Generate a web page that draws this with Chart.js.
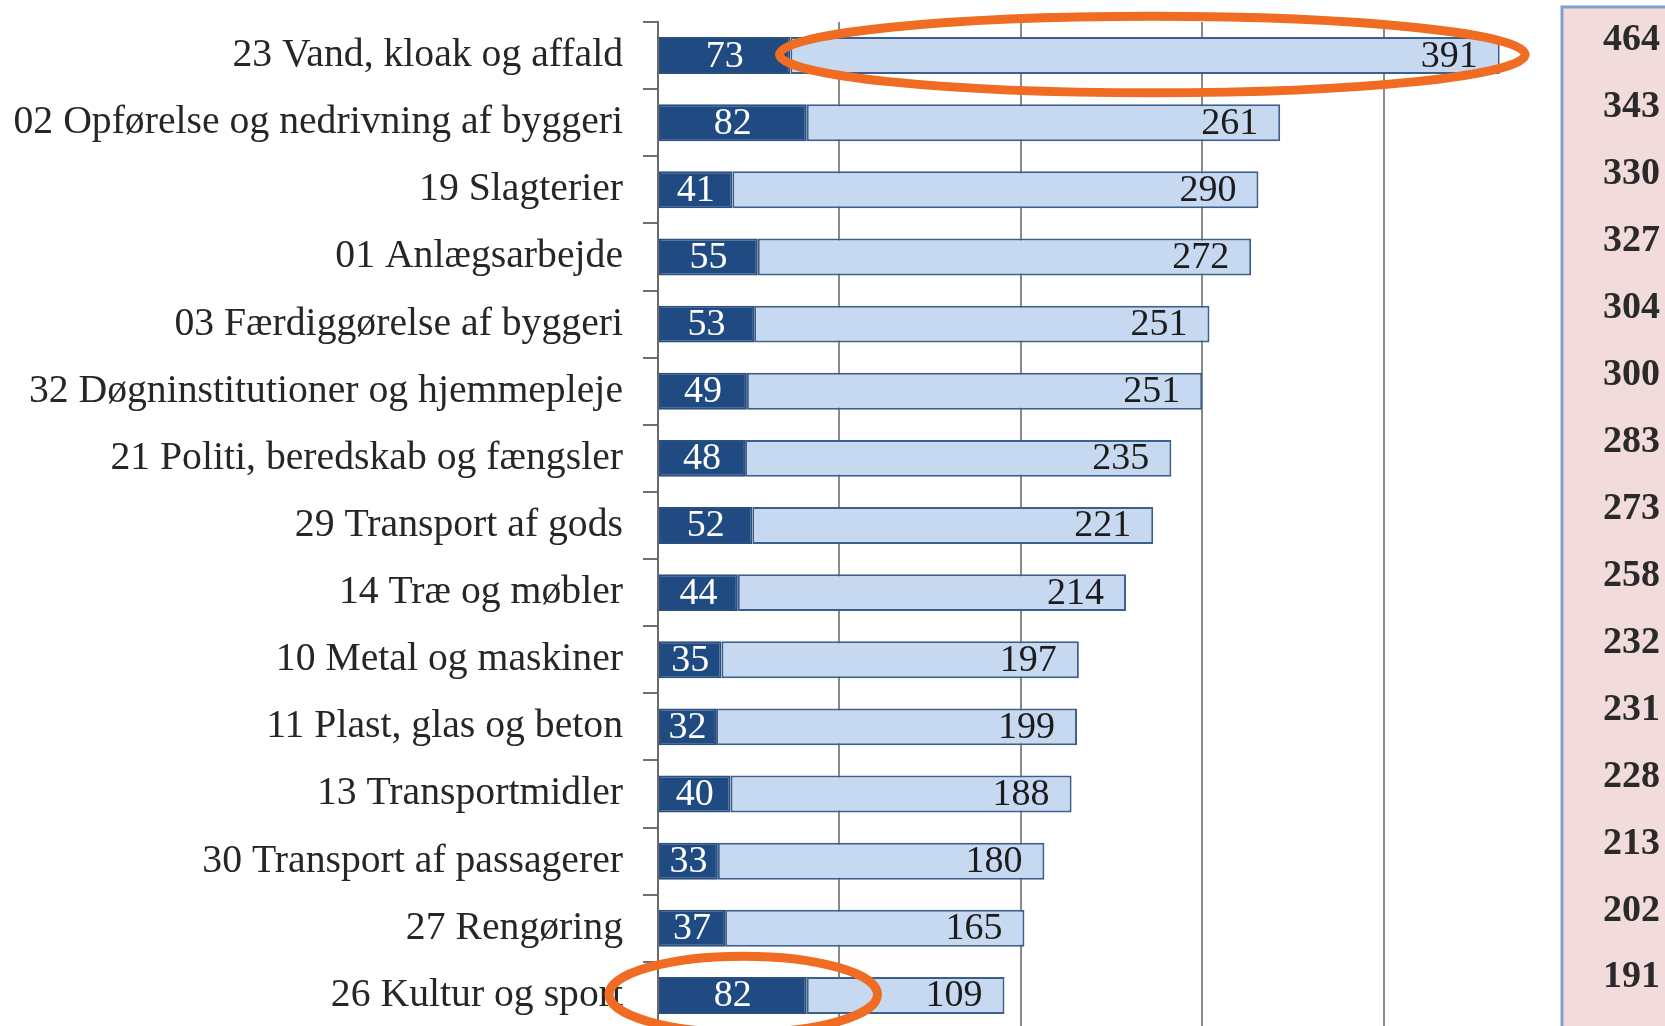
<!DOCTYPE html>
<html>
<head>
<meta charset="utf-8">
<script src="https://cdn.jsdelivr.net/npm/chart.js@4.4.1/dist/chart.umd.min.js"></script>
<style>
  html, body { margin: 0; padding: 0; background: #ffffff; overflow: hidden; }
  #wrap { width: 1665px; height: 1040px; position: relative; }
</style>
</head>
<body>
<div id="wrap"><canvas id="c" width="1665" height="1040"></canvas></div>
<script>
// ---- Data ----
const categories = [
  "23 Vand, kloak og affald",
  "02 Opførelse og nedrivning af byggeri",
  "19 Slagterier",
  "01 Anlægsarbejde",
  "03 Færdiggørelse af byggeri",
  "32 Døgninstitutioner og hjemmepleje",
  "21 Politi, beredskab og fængsler",
  "29 Transport af gods",
  "14 Træ og møbler",
  "10 Metal og maskiner",
  "11 Plast, glas og beton",
  "13 Transportmidler",
  "30 Transport af passagerer",
  "27 Rengøring",
  "26 Kultur og sport"
];
const darkValues  = [73, 82, 41, 55, 53, 49, 48, 52, 44, 35, 32, 40, 33, 37, 82];
const lightValues = [391, 261, 290, 272, 251, 251, 235, 221, 214, 197, 199, 188, 180, 165, 109];
const totals      = [464, 343, 330, 327, 304, 300, 283, 273, 258, 232, 231, 228, 213, 202, 191];
const xTicks      = [0, 100, 200, 300, 400, 500];
// highlighted rows (category index, value range circled)
const highlights  = [
  { index: 0,  from: 67,  to: 478 },
  { index: 14, from: -27, to: 121 }
];

const SERIF = '"Liberation Serif", "Times New Roman", serif';

const labelPlugin = {
  id: 'barLabels',
  afterDatasetsDraw(chart) {
    const ctx = chart.ctx;
    ctx.save();
    ctx.font = '38px ' + SERIF;
    ctx.textBaseline = 'middle';
    const m0 = chart.getDatasetMeta(0), m1 = chart.getDatasetMeta(1);
    m0.data.forEach((el, i) => {
      ctx.fillStyle = '#ffffff';
      ctx.textAlign = 'center';
      ctx.fillText(String(darkValues[i]), (el.x + el.base) / 2, el.y + 1);
    });
    m1.data.forEach((el, i) => {
      ctx.fillStyle = '#1c1c1c';
      ctx.textAlign = 'right';
      ctx.fillText(String(lightValues[i]), el.x - 22, el.y + 1);
    });
    ctx.restore();
  },
  afterDraw(chart) {
    const ctx = chart.ctx;
    const ca = chart.chartArea;
    const ys = chart.scales.y, xs = chart.scales.x;
    ctx.save();
    // totals box
    const bx = ca.right - 3, by = 7;
    ctx.fillStyle = '#f2dcdb';
    ctx.fillRect(bx, by, chart.width - bx + 10, chart.height);
    ctx.strokeStyle = '#7f9fcc';
    ctx.lineWidth = 3;
    ctx.beginPath();
    ctx.moveTo(bx, chart.height + 5);
    ctx.lineTo(bx, by);
    ctx.lineTo(chart.width + 5, by);
    ctx.stroke();
    ctx.font = 'bold 38px ' + SERIF;
    ctx.fillStyle = '#2a2a2a';
    ctx.textAlign = 'left';
    ctx.textBaseline = 'middle';
    totals.forEach((t, i) => {
      ctx.fillText(String(t), bx + 41, ys.getPixelForValue(i) - 15 - i * 0.2);
    });
    // highlight ellipses
    ctx.strokeStyle = '#ef6c22';
    ctx.lineWidth = 9;
    highlights.forEach(h => {
      const x1 = xs.getPixelForValue(h.from), x2 = xs.getPixelForValue(h.to);
      const cy = ys.getPixelForValue(h.index);
      const band = Math.abs(ys.getPixelForValue(1) - ys.getPixelForValue(0));
      ctx.beginPath();
      ctx.ellipse((x1 + x2) / 2, cy - 1, (x2 - x1) / 2, band * 0.57, 0, 0, Math.PI * 2);
      ctx.stroke();
    });
    ctx.restore();
  }
};

new Chart(document.getElementById('c'), {
  type: 'bar',
  data: {
    labels: categories,
    datasets: [
      {
        data: darkValues,
        backgroundColor: '#1f4a82',
        borderColor: '#2b4f7e',
        borderWidth: 2,
        borderSkipped: false,
        barPercentage: 0.55,
        categoryPercentage: 1.0
      },
      {
        data: lightValues,
        backgroundColor: '#c6d9f1',
        borderColor: '#3d5f8c',
        borderWidth: 2,
        borderSkipped: false,
        barPercentage: 0.55,
        categoryPercentage: 1.0
      }
    ]
  },
  options: {
    indexAxis: 'y',
    responsive: false,
    animation: false,
    maintainAspectRatio: false,
    layout: { padding: { left: 0, right: 100, top: 22, bottom: 11 } },
    plugins: { legend: { display: false }, tooltip: { enabled: false } },
    scales: {
      x: {
        stacked: true,
        min: 0,
        max: 500,
        afterBuildTicks: s => { s.ticks = xTicks.map(v => ({ value: v })); },
        ticks: { display: false },
        grid: { drawTicks: false, color: '#8a8a8a', lineWidth: 2 },
        border: { display: false },
        afterFit: s => { s.height = 0; s.paddingLeft = 0; s.paddingRight = 0; }
      },
      y: {
        stacked: true,
        afterFit: s => { s.width = 658; s.paddingTop = 0; s.paddingBottom = 0; },
        ticks: {
          font: { family: SERIF, size: 39.7 },
          color: '#262626',
          padding: 20,
          autoSkip: false
        },
        grid: { drawOnChartArea: false, drawTicks: true, tickLength: 15, color: '#6f6f6f', lineWidth: 2, offset: true },
        border: { display: true, color: '#6a6a6a', width: 2 }
      }
    }
  },
  plugins: [labelPlugin]
});
</script>
</body>
</html>
